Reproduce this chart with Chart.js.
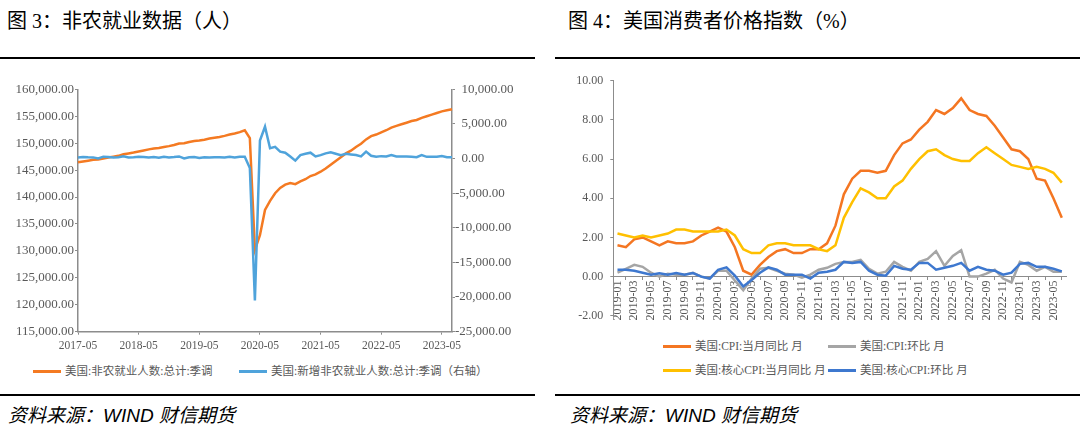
<!DOCTYPE html>
<html>
<head>
<meta charset="utf-8">
<script src="https://cdn.jsdelivr.net/npm/chart.js@4.4.0/dist/chart.umd.min.js"></script>
<style>
  body { margin: 0; width: 1080px; height: 433px; background: #fff; position: relative; overflow: hidden;
         font-family: "Liberation Serif", "Noto Sans CJK SC", serif; }
  .title { position: absolute; top: 8px; font-size: 20px; line-height: 26px; color: #000; white-space: nowrap; }
  .rule { position: absolute; height: 2px; background: #000; }
  .src { position: absolute; top: 404px; font-size: 19px; line-height: 24px; font-style: italic; color: #000;
         font-family: "Liberation Sans", "Noto Sans CJK SC", sans-serif; white-space: nowrap; }
  .leg { position: absolute; font-size: 11.5px; line-height: 14px; color: #595959; white-space: nowrap; }
  .leg i { position: absolute; top: 6px; width: 28px; height: 2.5px; }
  .leg span { position: absolute; left: 32px; top: 0; }
  canvas { position: absolute; }
</style>
</head>
<body>

<div class="title" style="left:7px">图 3：非农就业数据（人）</div>
<div class="title" style="left:568px">图 4：美国消费者价格指数（%）</div>
<div class="rule" style="left:0;width:535px;top:57px"></div>
<div class="rule" style="left:555px;width:525px;top:57px"></div>

<canvas id="nfp" width="540" height="290" style="left:0;top:70px"></canvas>
<canvas id="cpi" width="535" height="265" style="left:545px;top:65px"></canvas>

<div class="leg" style="left:33px;top:364px"><i style="background:#F47A22"></i><span>美国:非农就业人数:总计:季调</span></div>
<div class="leg" style="left:239px;top:364px"><i style="background:#4FA3DB"></i><span>美国:新增非农就业人数:总计:季调（右轴）</span></div>

<div class="leg" style="left:663px;top:339px"><i style="background:#F47622"></i><span>美国:CPI:当月同比 月</span></div>
<div class="leg" style="left:828px;top:339px"><i style="background:#A5A5A5"></i><span>美国:CPI:环比 月</span></div>
<div class="leg" style="left:663px;top:363px"><i style="background:#FFC000"></i><span>美国:核心CPI:当月同比 月</span></div>
<div class="leg" style="left:828px;top:363px"><i style="background:#3E78CF"></i><span>美国:核心CPI:环比 月</span></div>

<div class="rule" style="left:0;width:535px;top:394px"></div>
<div class="rule" style="left:555px;width:525px;top:394px"></div>
<div class="src" style="left:8px">资料来源：WIND 财信期货</div>
<div class="src" style="left:570px">资料来源：WIND 财信期货</div>

<script>
// month categories
function monthRange(startY, startM, n) {
  const out = [];
  for (let k = 0; k < n; k++) {
    const t = startM - 1 + k;
    out.push((startY + Math.floor(t / 12)) + "-" + String((t % 12) + 1).padStart(2, "0"));
  }
  return out;
}

// --- figure 3: nonfarm payrolls (thousands) ---
const nfpMonths = monthRange(2017, 5, 75); // 2017-05 .. 2023-07
const nfpTickLabels = ["2017-05", "2018-05", "2019-05", "2020-05", "2021-05", "2022-05", "2023-05"];
const nonfarmTotal = [
  146450, 146600, 146750, 146900, 146950, 147150, 147350, 147500, 147650, 147950, 148100, 148250,
  148450, 148650, 148850, 149000, 149100, 149300, 149450, 149650, 149950, 150000, 150200, 150400,
  150500, 150650, 150850, 151000, 151150, 151350, 151600, 151800, 152050, 152400, 150950, 130200,
  132900, 137600, 139300, 140700, 141700, 142300, 142600, 142400, 142900, 143300, 143900, 144200,
  144700, 145300, 146000, 146700, 147400, 148100, 148600, 149300, 149900, 150700, 151300, 151600,
  152000, 152400, 152900, 153200, 153500, 153800, 154100, 154300, 154700, 155000, 155300, 155600,
  155900, 156100, 156300
];
const nonfarmChange = [
  150, 230, 190, 170, 20, 270, 220, 170,
  180, 320, 150, 180, 250, 230, 140, 220, 120, 250, 170, 230,
  310, 10, 190, 220, 90, 190, 160, 200, 180, 150, 250, 150,
  270, 270, -1370, -20500, 2600, 4600, 1500, 1700, 1000, 850, 300, -300,
  500, 700, 850, 300, 500, 750, 900, 700, 500, 700, 600, 500,
  300, 1000, 400, 250, 350, 300, 500, 300, 300, 300, 250, 200,
  500, 250, 250, 250, 350, 200, 200
];

// --- figure 4: US CPI (%) ---
const cpiMonths = monthRange(2019, 1, 54); // 2019-01 .. 2023-06
const cpiYoY = [
  1.6, 1.5, 1.9, 2.0, 1.8, 1.6, 1.8, 1.7, 1.7, 1.8, 2.1, 2.3,
  2.5, 2.3, 1.5, 0.3, 0.1, 0.6, 1.0, 1.3, 1.4, 1.2, 1.2, 1.4,
  1.4, 1.7, 2.6, 4.2, 5.0, 5.4, 5.4, 5.3, 5.4, 6.2, 6.8, 7.0,
  7.5, 7.9, 8.5, 8.3, 8.6, 9.1, 8.5, 8.3, 8.2, 7.7, 7.1, 6.5,
  6.4, 6.0, 5.0, 4.9, 4.0, 3.0
];
const cpiMoM = [
  0.2, 0.4, 0.6, 0.5, 0.2, 0.0, 0.15, 0.1, 0.1, 0.2, 0.0, -0.1,
  0.3, 0.3, -0.2, -0.7, -0.1, 0.4, 0.45, 0.3, 0.15, 0.1, -0.05, 0.1,
  0.35, 0.45, 0.65, 0.75, 0.75, 0.85, 0.4, 0.15, 0.25, 0.75, 0.5, 0.3,
  0.75, 0.9, 1.3, 0.55, 1.05, 1.35, 0.0, 0.0, 0.15, 0.35, -0.1, -0.3,
  0.75, 0.6, 0.3, 0.5, 0.25, 0.25
];
const coreYoY = [
  2.2, 2.1, 2.0, 2.1, 2.0, 2.1, 2.2, 2.4, 2.4, 2.3, 2.3, 2.3,
  2.3, 2.4, 2.1, 1.4, 1.2, 1.2, 1.6, 1.7, 1.7, 1.6, 1.6, 1.6,
  1.4, 1.3, 1.6, 3.0, 3.8, 4.5, 4.3, 4.0, 4.0, 4.6, 4.9, 5.5,
  6.0, 6.4, 6.5, 6.2, 6.0, 5.9, 5.9, 6.3, 6.6, 6.3, 6.0, 5.7,
  5.6, 5.5, 5.6, 5.5, 5.3, 4.8
];
const coreMoM = [
  0.35, 0.35, 0.3, 0.2, 0.1, 0.17, 0.1, 0.18, 0.1, 0.18, 0.0, -0.1,
  0.35, 0.47, 0.05, -0.5, -0.17, 0.2, 0.47, 0.35, 0.1, 0.1, 0.1, -0.1,
  0.2, 0.25, 0.35, 0.75, 0.7, 0.75, 0.3, 0.1, 0.05, 0.55, 0.4, 0.35,
  0.7, 0.7, 0.35, 0.45, 0.55, 0.7, 0.3, 0.5, 0.35, 0.3, 0.1, 0.2,
  0.65, 0.7, 0.5, 0.5, 0.4, 0.27
];

const TXT = "#595959";
const AXIS = "#8C8C8C";
const tickFont = { family: "Liberation Serif", size: 13 };
const fmt2 = (v) => v.toLocaleString("en-US", { minimumFractionDigits: 2, maximumFractionDigits: 2 });

new Chart(document.getElementById("nfp"), {
  type: "line",
  data: {
    labels: nfpMonths,
    datasets: [
      { label: "美国:非农就业人数:总计:季调", data: nonfarmTotal, borderColor: "#F47A22", yAxisID: "y", order: 1 },
      { label: "美国:新增非农就业人数:总计:季调（右轴）", data: nonfarmChange, borderColor: "#4FA3DB", yAxisID: "y1", order: 0 },
    ],
  },
  options: {
    responsive: false,
    animation: false,
    layout: { padding: { top: 19.3, left: 0, right: 0, bottom: 0 } },
    elements: { point: { radius: 0 }, line: { borderWidth: 2.5, tension: 0 } },
    plugins: { legend: { display: false }, tooltip: { enabled: false } },
    scales: {
      x: {
        type: "category",
        offset: false,
        grid: { drawOnChartArea: false, tickLength: 3, color: AXIS },
        border: { color: AXIS, width: 1.5 },
        ticks: {
          autoSkip: false, maxRotation: 0, padding: 4, color: TXT,
          font: { family: "Liberation Serif", size: 11.5 },
          callback: (v, i) => (i % 12 === 0 ? nfpTickLabels[i / 12] : null),
        },
        afterFit: (s) => { s.height = 28.3; },
      },
      y: {
        position: "left",
        min: 115000, max: 160000,
        grid: { drawOnChartArea: false, tickLength: 3, color: AXIS },
        border: { color: AXIS, width: 1.5 },
        ticks: { stepSize: 5000, padding: 1, color: TXT, font: tickFont, callback: (v) => fmt2(v) },
        afterFit: (s) => { s.width = 78; },
      },
      y1: {
        position: "right",
        min: -25000, max: 10000,
        grid: { drawOnChartArea: false, tickLength: 3, color: AXIS },
        border: { color: AXIS, width: 1.5 },
        ticks: { stepSize: 5000, padding: 0, color: TXT, font: tickFont,
                 callback: (v) => (v >= 0 ? "\u2002" : "") + fmt2(v) },
        afterFit: (s) => { s.width = 88; },
      },
    },
  },
});

new Chart(document.getElementById("cpi"), {
  type: "line",
  data: {
    labels: cpiMonths,
    datasets: [
      { label: "美国:CPI:当月同比 月", data: cpiYoY, borderColor: "#F47622", order: 3 },
      { label: "美国:CPI:环比 月", data: cpiMoM, borderColor: "#A5A5A5", order: 2 },
      { label: "美国:核心CPI:当月同比 月", data: coreYoY, borderColor: "#FFC000", order: 1 },
      { label: "美国:核心CPI:环比 月", data: coreMoM, borderColor: "#3E78CF", order: 0 },
    ],
  },
  options: {
    responsive: false,
    animation: false,
    layout: { padding: { top: 15.7, left: 0, right: 14, bottom: 10.7 } },
    elements: { point: { radius: 0 }, line: { borderWidth: 2.5, tension: 0 } },
    plugins: { legend: { display: false }, tooltip: { enabled: false } },
    scales: {
      x: {
        type: "category",
        offset: true,
        position: { y: 0 },
        grid: { drawOnChartArea: false, offset: true, tickLength: 3, color: AXIS },
        border: { color: AXIS, width: 1 },
        ticks: {
          autoSkip: false, minRotation: 90, maxRotation: 90, padding: 1, color: TXT,
          font: { family: "Liberation Serif", size: 12 },
          callback: (v, i) => (i % 2 === 0 ? cpiMonths[i] : null),
        },
      },
      y: {
        min: -2, max: 10,
        grid: { drawOnChartArea: false, tickLength: 3, color: AXIS },
        border: { color: AXIS, width: 1 },
        ticks: { stepSize: 2, padding: 7, color: TXT, font: { family: "Liberation Serif", size: 12 },
                 callback: (v) => v.toFixed(2) },
        afterFit: (s) => { s.width = 68.3; },
      },
    },
  },
});
</script>
</body>
</html>
